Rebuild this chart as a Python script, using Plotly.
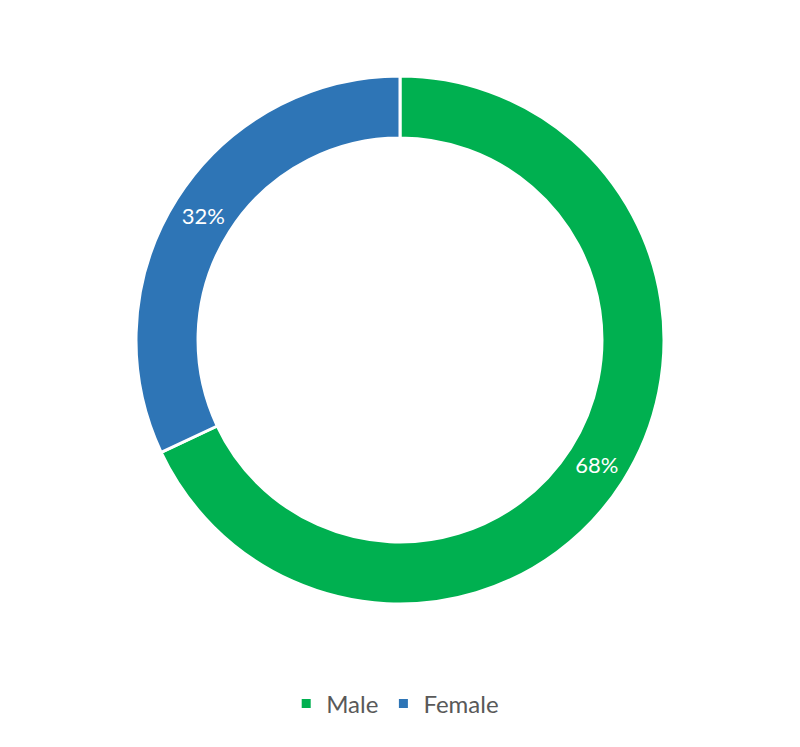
import plotly.graph_objects as go

# data
genders = ['Male', 'Female']
shares = [68, 32]
colors = ['#00B050', '#2E75B6']

# page body has an 8px margin, so the pie box is shifted back by that
fig = go.Figure(go.Pie(
    labels=genders,
    values=shares,
    hole=0.765,
    sort=False,
    direction='clockwise',
    rotation=0,
    marker=dict(colors=colors, line=dict(color='white', width=3)),
    textinfo='percent',
    texttemplate='%{percent:.0%}',
    textposition='inside',
    insidetextorientation='horizontal',
    textfont=dict(color='white', size=22, family='Lato'),
    domain=dict(x=[128 / 800, 656 / 800], y=[1 - 596 / 747, 1 - 68 / 747]),
))

fig.update_layout(
    width=800, height=747,
    margin=dict(l=0, r=0, t=0, b=0),
    paper_bgcolor='white',
    font=dict(family='Lato', color='#595959', size=20),
    legend=dict(orientation='h', x=0.484, xanchor='center', y=1 - 696 / 747, yanchor='middle',
                font=dict(size=24, color='#595959'), itemwidth=30),
    showlegend=True,
)

fig.write_html("out.html")
